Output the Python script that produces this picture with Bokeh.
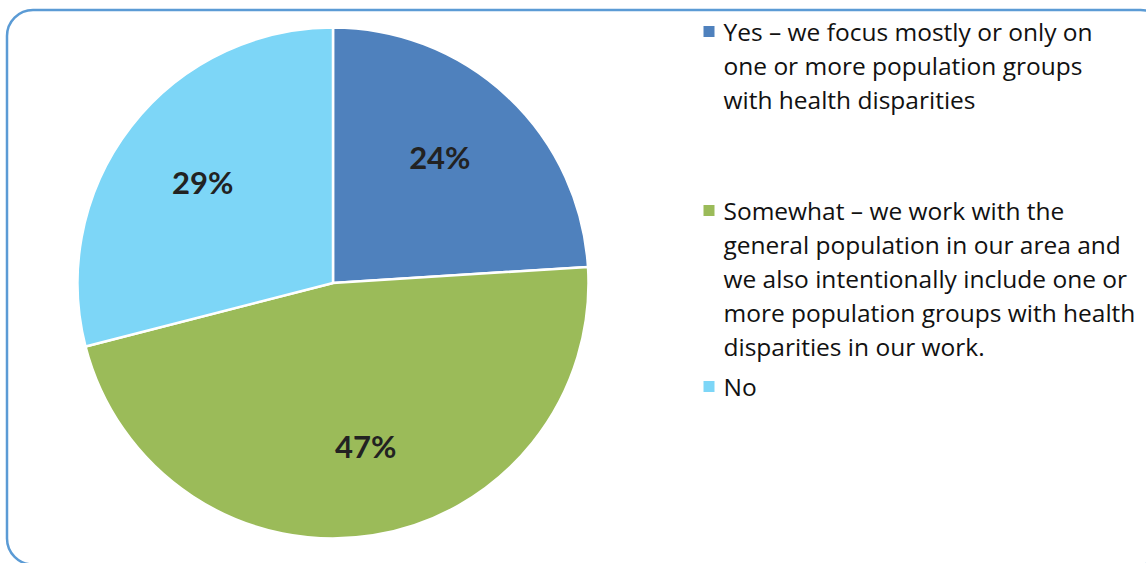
import numpy as np
from bokeh.plotting import figure
from bokeh.models import Range1d
from bokeh.core.properties import value
from bokeh.embed import file_html
from bokeh.resources import INLINE

# ---- data ----
categories = ["Yes", "Somewhat", "No"]
shares = [24, 47, 29]
pct_labels = ["24%", "47%", "29%"]
legend_lines = [
    ["Yes \u2013 we focus mostly or only on", "one or more population groups", "with health disparities"],
    ["Somewhat \u2013 we work with the", "general population in our area and",
     "we also intentionally include one or", "more population groups with health",
     "disparities in our work."],
    ["No"],
]
colors = ["#4F81BD", "#9BBB59", "#7DD6F7"]

W, H = 1146, 563
p = figure(width=W, height=H, output_backend="svg", toolbar_location=None,
           x_range=Range1d(0, W), y_range=Range1d(0, H), min_border=0)
p.axis.visible = False
p.grid.visible = False
p.outline_line_color = None
p.background_fill_color = "white"
p.border_fill_color = "white"

def py(y):  # pixel-from-top to data y
    return H - y

# rounded frame
p.quad(left=6.5, right=1166, top=py(9.5), bottom=py(564), fill_color=None,
       line_color="#5B9BD5", line_width=2.5, border_radius=26)

# pie
cx, cy, R = 332.5, py(282.5), 255.5
frac = np.array(shares, dtype=float) / sum(shares)
cum = np.concatenate([[0], np.cumsum(frac)])
starts = np.pi / 2 - 2 * np.pi * cum[:-1]
ends = np.pi / 2 - 2 * np.pi * cum[1:]
p.wedge(x=cx, y=cy, radius=R, start_angle=list(starts), end_angle=list(ends),
        direction="clock", fill_color=colors, line_color="white", line_width=2.5)

mids = (starts + ends) / 2
lr = 0.645 * R
p.text(x=list(cx + lr * np.cos(mids) + np.array([-6, 7, 0])),
       y=list(cy + lr * np.sin(mids) + np.array([6, 0, 0])), text=pct_labels,
       text_font=value("Lato"), text_font_style="bold", text_font_size="31px",
       text_color="#222222", text_align="center", text_baseline="middle")

# legend
item_tops = [31, 210, 386]
line_h = 34
for i, lines in enumerate(legend_lines):
    y0 = item_tops[i]
    p.scatter(x=[708.5], y=[py(y0)], marker="square", size=11, fill_color=colors[i],
              line_color=None)
    ys = [py(y0 + k * line_h) for k in range(len(lines))]
    p.text(x=[723] * len(lines), y=ys, text=lines, text_font=value("Open Sans"),
           text_font_size="24.5px", text_color="#111111", text_align="left",
           text_baseline="middle")

open("out.html", "w").write(file_html(p, INLINE))
